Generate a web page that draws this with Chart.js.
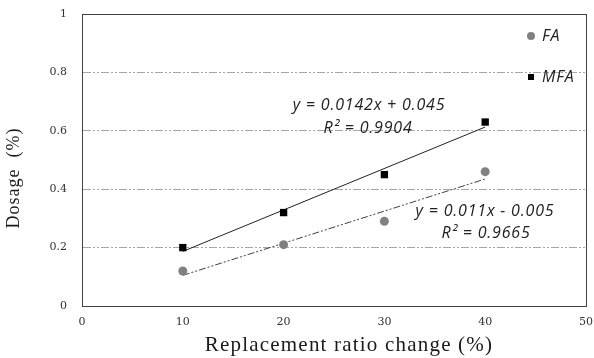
<!DOCTYPE html>
<html><head><meta charset="utf-8">
<script src="https://cdn.jsdelivr.net/npm/chart.js@4.4.1/dist/chart.umd.min.js"></script>
<style>html,body{margin:0;padding:0;background:#fff}#wrap{width:594px;height:358px}</style>
</head><body><div id="wrap"><canvas id="c" width="594" height="358"></canvas></div>
<script>
const replacementRatio = [10, 20, 30, 40];
const faDosage = [0.12, 0.21, 0.29, 0.46];
const mfaDosage = [0.20, 0.32, 0.45, 0.63];
const faFit = {slope: 0.011, intercept: -0.005, r2: '0.9665'};
const mfaFit = {slope: 0.0142, intercept: 0.045, r2: '0.9904'};
const xTicks = [0, 10, 20, 30, 40, 50];
const yTicks = [0, 0.2, 0.4, 0.6, 0.8, 1];
const seriesNames = ['FA', 'MFA'];
const xTitle = 'Replacement ratio change (%)';
const yTitle = 'Dosage  (%)';

const fitX = [replacementRatio[0], replacementRatio[replacementRatio.length - 1]];
const toPts = (xs, ys) => xs.map((x, i) => ({x, y: ys[i]}));
const fitPts = f => fitX.map(x => ({x, y: f.slope * x + f.intercept}));

const overlay = {
  id: 'overlay',
  afterDraw(chart) {
    const {ctx, chartArea: a} = chart;
    ctx.save();
    ctx.strokeStyle = '#404040';
    ctx.lineWidth = 1;
    ctx.strokeRect(Math.round(a.left) + 0.5, Math.round(a.top) + 0.5, Math.round(a.right - a.left), Math.round(a.bottom - a.top));
    // legend
    ctx.fillStyle = '#808080';
    ctx.beginPath(); ctx.arc(531, 36, 4, 0, Math.PI * 2); ctx.fill();
    ctx.fillStyle = '#000';
    ctx.fillRect(528, 74, 6, 6);
    ctx.font = 'italic 16px "Open Sans"';
    ctx.letterSpacing = '0.8px';
    ctx.fillStyle = '#222';
    ctx.textBaseline = 'middle';
    ctx.textAlign = 'left';
    ctx.fillText(seriesNames[0], 542, 36);
    ctx.fillText(seriesNames[1], 542, 77);
    // equations
    ctx.textAlign = 'center';
    ctx.fillText('y = ' + mfaFit.slope + 'x + ' + mfaFit.intercept, 369, 105);
    ctx.fillText('R² = ' + mfaFit.r2, 368, 128);
    ctx.fillText('y = ' + faFit.slope + 'x - ' + Math.abs(faFit.intercept), 485, 211);
    ctx.fillText('R² = ' + faFit.r2, 486, 233);
    // axis titles
    ctx.fillStyle = '#1a1a1a';
    ctx.font = '21px "Liberation Serif"';
    ctx.letterSpacing = '1.2px';
    ctx.fillText(xTitle, 349, 345);
    ctx.save();
    ctx.translate(14, 178);
    ctx.rotate(-Math.PI / 2);
    ctx.font = '18px "Liberation Serif"';
    ctx.letterSpacing = '1px';
    ctx.fillText(yTitle, 0, 0);
    ctx.restore();
    ctx.restore();
  }
};

new Chart(document.getElementById('c'), {
  type: 'scatter',
  data: {
    datasets: [
      {label: 'FA trend', type: 'line', data: fitPts(faFit), borderColor: '#404040', borderWidth: 1,
       borderDash: [7, 2, 2, 2, 2, 2], pointRadius: 0, fill: false, order: 3},
      {label: 'MFA trend', type: 'line', data: fitPts(mfaFit), borderColor: '#222', borderWidth: 1,
       pointRadius: 0, fill: false, order: 3},
      {label: seriesNames[0], data: toPts(replacementRatio, faDosage), pointStyle: 'circle', pointRadius: 4.5,
       backgroundColor: '#808080', borderColor: '#808080', borderWidth: 0, order: 1},
      {label: seriesNames[1], data: toPts(replacementRatio, mfaDosage), pointStyle: 'rect', pointRadius: 5.2,
       backgroundColor: '#000', borderColor: '#000', borderWidth: 0, order: 1}
    ]
  },
  options: {
    responsive: false, animation: false, devicePixelRatio: 1,
    layout: {padding: {top: 14, right: 8, left: 0, bottom: 0}},
    plugins: {legend: {display: false}, tooltip: {enabled: false}},
    scales: {
      x: {
        type: 'linear', min: 0, max: 50,
        afterBuildTicks: s => { s.ticks = xTicks.map(v => ({value: v})); },
        afterFit: s => { s.height = 52; s.paddingLeft = 0; s.paddingRight = 0; },
        grid: {display: false, drawTicks: false},
        border: {display: true, color: '#404040', width: 1},
        ticks: {color: '#333', font: {family: 'DejaVu Serif', size: 11}, padding: 10, maxRotation: 0}
      },
      y: {
        type: 'linear', min: 0, max: 1,
        afterBuildTicks: s => { s.ticks = yTicks.map(v => ({value: v})); },
        afterFit: s => { s.width = 82; s.paddingTop = 0; s.paddingBottom = 0; },
        grid: {drawTicks: false, color: c => (c.tick && c.tick.value > 0 && c.tick.value < 1) ? '#a6a6a6' : 'rgba(0,0,0,0)', lineWidth: 1},
        border: {display: true, color: '#404040', width: 1, dash: [8, 2, 2, 2, 2, 2]},
        ticks: {color: '#333', font: {family: 'DejaVu Serif', size: 11}, padding: 15,
                callback: v => String(v)}
      }
    }
  },
  plugins: [overlay]
});
</script></body></html>
